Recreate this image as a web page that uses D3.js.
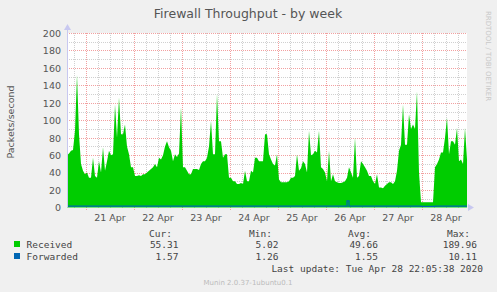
<!DOCTYPE html>
<html>
<head>
<meta charset="utf-8">
<script src="https://cdn.jsdelivr.net/npm/d3@7"></script>
<style>
html,body{margin:0;padding:0;background:#f0f0f0;}
svg{display:block;}
</style>
</head>
<body>
<svg id="chart" width="497" height="292"></svg>
<script>
// ---- data (hourly samples starting Apr 20 14:30) ----
const startTime = new Date(2020, 3, 20, 14, 30);
const stepHours = 1;
const received = [
 60,62,65,66,88,152,84,50,42,38, 40,34,34,57,36,34,53,40,69,42,
 53,65,60,61,118,80,126,84,84,95, 70,61,46,46,36,36,37,36,38,38,
 40,42,44,46,50,46,57,55,60,70, 76,69,65,53,61,58,62,115,46,46,
 42,38,38,44,44,44,43,50,53,53, 57,70,99,61,61,130,76,76,57,61,
 61,34,34,30,30,27,27,28,27,42, 30,30,42,40,57,57,53,53,53,84,
 84,61,55,50,48,61,32,29,29,29, 29,30,34,34,36,61,42,45,53,50,
 40,88,60,61,65,63,88,46,44,40, 30,65,30,38,30,29,28,28,29,30,
 34,46,40,34,80,34,36,53,50,46, 42,36,36,30,27,38,23,23,22,25,
 27,29,29,27,30,42,65,72,118,72, 72,107,90,95,90,133,40,6,6,6,
 6,6,6,6,46,50,55,63,63,80, 103,61,76,76,72,91,53,55,50,91,
 55
];
const forwarded = [
 1.5,1.5,1.5,1.6,1.6,1.5,1.5,1.5,1.5,1.5, 1.5,1.5,1.5,1.5,1.5,1.5,1.5,1.5,1.6,1.5,
 1.5,1.5,1.5,1.5,1.6,1.5,1.6,1.5,1.5,1.5, 1.5,1.5,1.5,1.5,1.5,1.5,1.5,1.5,1.5,1.5,
 1.5,1.5,1.5,1.5,1.5,1.5,1.5,1.5,1.5,1.6, 1.6,1.5,1.5,1.5,1.5,1.5,1.5,1.6,1.5,1.5,
 1.5,1.5,1.5,1.5,1.5,1.5,1.5,1.5,1.5,1.5, 1.5,1.5,1.6,1.5,1.5,1.6,1.5,1.5,1.5,1.5,
 1.5,1.5,1.5,1.5,1.5,1.5,1.5,1.5,1.5,1.5, 1.5,1.5,1.5,1.5,1.5,1.5,1.5,1.5,1.5,1.6,
 1.6,1.5,1.5,1.5,1.5,1.5,1.5,1.5,1.5,1.5, 1.5,1.5,1.5,1.5,1.5,1.5,1.5,1.5,1.5,1.5,
 1.5,1.6,1.5,1.5,1.5,1.5,1.6,1.5,1.5,1.5, 1.5,1.5,1.5,1.5,1.5,1.5,1.5,1.5,1.5,1.5,
 7.5,1.6,1.5,1.5,1.6,1.5,1.5,1.5,1.5,1.5, 1.5,1.5,1.5,1.5,1.5,1.5,1.5,1.5,1.5,1.5,
 1.5,1.5,1.5,1.5,1.5,1.5,1.5,1.6,1.6,1.6, 1.6,1.6,1.6,1.6,1.6,1.6,1.5,1.3,1.3,1.3,
 1.3,1.3,1.3,1.3,1.5,1.5,1.5,1.5,1.5,1.6, 1.6,1.5,1.6,1.6,1.6,1.6,1.5,1.6,1.5,1.6,
 1.6
];
const yTicks = [0,20,40,60,80,100,120,140,160,180,200];
const dayLabels = ["21 Apr","22 Apr","23 Apr","24 Apr","25 Apr","26 Apr","27 Apr","28 Apr"];
const dayDates = [21,22,23,24,25,26,27,28];
const legendNames = ["Received","Forwarded"];
const legendColors = ["#00cc00","#0066b3"];
const statHeaders = ["Cur:","Min:","Avg:","Max:"];
const statValues = [["55.31","5.02","49.66","189.96"],["1.57","1.26","1.55","10.11"]];
const titleText = "Firewall Throughput - by week";
const yLabel = "Packets/second";
const lastUpdate = "Last update: Tue Apr 28 22:05:38 2020";
const footer = "Munin 2.0.37-1ubuntu0.1";
const sideText = "RRDTOOL / TOBI OETIKER";

// ---- layout ----
const svg = d3.select("#chart");
const L = 67, R = 467, T = 33, B = 207.5;
const endTime = new Date(startTime.getTime() + (received.length - 1) * stepHours * 3600e3);
const x = d3.scaleTime().domain([startTime, endTime]).range([L, R]);
const y = d3.scaleLinear().domain([0, 200]).range([B, T]);
const t = i => new Date(startTime.getTime() + i * stepHours * 3600e3);

svg.append("rect").attr("x",0).attr("y",0).attr("width",497).attr("height",292).attr("fill","#f0f0f0");
svg.append("rect").attr("x",L).attr("y",T).attr("width",R-L).attr("height",B-T).attr("fill","#ffffff");

// grid
const g = svg.append("g").attr("shape-rendering","crispEdges");
const minorY = d3.range(10, 201, 20);
g.selectAll(".hmin").data(minorY).enter().append("line")
 .attr("x1",L).attr("x2",R).attr("y1",d=>Math.round(y(d))+0.5).attr("y2",d=>Math.round(y(d))+0.5)
 .attr("stroke","#d0d0d0").attr("stroke-dasharray","1,1");
g.selectAll(".hmaj").data(yTicks.filter(d=>d>0)).enter().append("line")
 .attr("x1",L).attr("x2",R).attr("y1",d=>Math.round(y(d))+0.5).attr("y2",d=>Math.round(y(d))+0.5)
 .attr("stroke","#f2a0a0").attr("stroke-dasharray","1,1");
const sixH = d3.timeHour.every(6).range(startTime, endTime).filter(d=>d.getHours()!==0);
g.selectAll(".vmin").data(sixH).enter().append("line")
 .attr("x1",d=>Math.round(x(d))+0.5).attr("x2",d=>Math.round(x(d))+0.5).attr("y1",T).attr("y2",B)
 .attr("stroke","#d0d0d0").attr("stroke-dasharray","1,1");
const mids = dayDates.map(d=>new Date(2020,3,d,0,0));
g.selectAll(".vmaj").data(mids).enter().append("line")
 .attr("x1",d=>Math.round(x(d))+0.5).attr("x2",d=>Math.round(x(d))+0.5).attr("y1",T).attr("y2",B+3)
 .attr("stroke","#f2a0a0").attr("stroke-dasharray","1,1");

// series
const area = d3.area().x((d,i)=>x(t(i))).y0(y(0)).y1(d=>y(d)).curve(d3.curveLinear);
svg.append("path").datum(received).attr("d",area).attr("fill","#00cc00");
const line = d3.line().x((d,i)=>x(t(i))).y(d=>y(d)).curve(d3.curveStepAfter);
svg.append("path").datum(forwarded).attr("d",line).attr("fill","none").attr("stroke","#0066b3").attr("stroke-width",1.2);

// axes lines + arrows
const axisCol = "#c8c8f0";
svg.append("line").attr("x1",L+0.5).attr("x2",L+0.5).attr("y1",B).attr("y2",T-4).attr("stroke",axisCol);
svg.append("path").attr("d",`M${L-3},${T-3} L${L+4},${T-3} L${L+0.5},${T-9} Z`).attr("fill",axisCol);
svg.append("path").attr("d",`M${R+1},${B-3.5} L${R+1},${B+3.5} L${R+7},${B} Z`).attr("fill",axisCol);

// y axis labels
const yAxis = d3.axisLeft(y).tickValues(yTicks).tickSize(0).tickPadding(0);
const ya = svg.append("g").attr("transform",`translate(${L-6},0)`).call(yAxis);
ya.select(".domain").remove();
ya.selectAll("text").attr("font-family","DejaVu Sans").attr("font-size","9.5px").attr("fill","#555").attr("dy","0.35em");

// x labels at noon
const noon = dayDates.map(d=>new Date(2020,3,d,12,0));
svg.selectAll(".xl").data(dayLabels).enter().append("text")
 .attr("x",(d,i)=>x(noon[i])).attr("y",221).attr("text-anchor","middle")
 .attr("font-family","DejaVu Sans").attr("font-size","9.5px").attr("fill","#555").text(d=>d);

// title
svg.append("text").attr("x",248).attr("y",18).attr("text-anchor","middle")
 .attr("font-family","DejaVu Sans").attr("font-size","12.5px").attr("fill","#555").text(titleText);
// y label
svg.append("text").attr("transform","translate(14,122) rotate(-90)").attr("text-anchor","middle")
 .attr("font-family","DejaVu Sans").attr("font-size","9.5px").attr("fill","#555").text(yLabel);
// side text
svg.append("text").attr("transform","translate(486,56) rotate(90)").attr("text-anchor","middle")
 .attr("font-family","DejaVu Sans").attr("font-size","7px").attr("fill","#c8c8c8").text(sideText);

// legend
const mono = "DejaVu Sans Mono";
const colRight = [172, 272, 371, 470];
const valRight = [178.5, 278.5, 378, 477];
svg.selectAll(".sh").data(statHeaders).enter().append("text")
 .attr("x",(d,i)=>colRight[i]).attr("y",236.5).attr("text-anchor","end")
 .attr("font-family",mono).attr("font-size","9.5px").attr("fill","#444").text(d=>d);
const rowsY = [247.5, 259.5];
legendNames.forEach((n,k)=>{
  svg.append("rect").attr("x",14).attr("y",rowsY[k]-6.5).attr("width",6).attr("height",6).attr("fill",legendColors[k]);
  svg.append("text").attr("x",26.5).attr("y",rowsY[k]).attr("font-family",mono).attr("font-size","9.5px").attr("fill","#444").text(n);
  statValues[k].forEach((v,j)=>{
    svg.append("text").attr("x",valRight[j]).attr("y",rowsY[k]).attr("text-anchor","end")
     .attr("font-family",mono).attr("font-size","9.5px").attr("fill","#444").text(v);
  });
});
svg.append("text").attr("x",483).attr("y",271.5).attr("text-anchor","end")
 .attr("font-family",mono).attr("font-size","9.5px").attr("fill","#444").text(lastUpdate);
svg.append("text").attr("x",248).attr("y",284.5).attr("text-anchor","middle")
 .attr("font-family","DejaVu Sans").attr("font-size","7px").attr("fill","#bbb").text(footer);
</script>
</body>
</html>
